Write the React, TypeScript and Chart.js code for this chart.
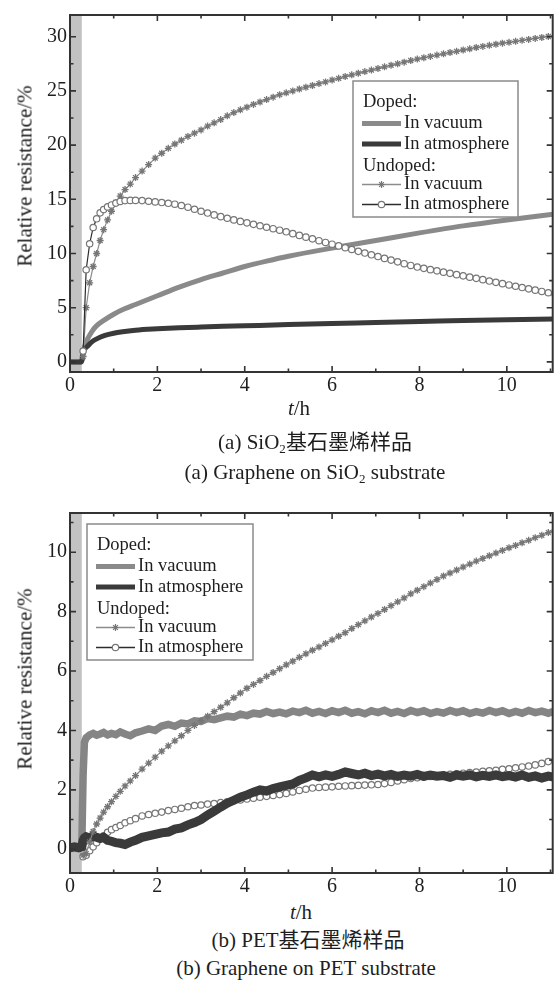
import React, { useEffect, useRef } from "react";
import { Chart, registerables } from "chart.js";

Chart.register(...registerables);

// ---------------- shared axis data ----------------
const X_MAX = 11.05;
const X_TICKS = [0, 2, 4, 6, 8, 10];
const X_MINOR = [1, 3, 5, 7, 9, 11];
const BAND = [0, 0.27];

// sampling times (h) of the marker series
const T_MARK = [
  0.3, 0.37, 0.45, 0.53, 0.61, 0.69, 0.77, 0.86, 0.95, 1.05, 1.15, 1.26, 1.38, 1.5,
  1.65, 1.8, 1.95, 2.1, 2.25, 2.4, 2.55, 2.7, 2.85, 3.0,
  3.15, 3.3, 3.45, 3.6, 3.75, 3.9, 4.05, 4.2, 4.35, 4.5,
  4.65, 4.8, 4.95, 5.1, 5.25, 5.4, 5.55, 5.7, 5.85, 6.0,
  6.15, 6.3, 6.45, 6.6, 6.75, 6.9, 7.05, 7.2, 7.35, 7.5,
  7.65, 7.8, 7.95, 8.1, 8.25, 8.4, 8.55, 8.7, 8.85, 9.0,
  9.15, 9.3, 9.45, 9.6, 9.75, 9.9, 10.05, 10.2, 10.35, 10.5,
  10.65, 10.8, 10.95, 11.1,
];

// ---------------- panel (a): SiO2 ----------------
const Y_MIN_A = -0.93;
const Y_MAX_A = 32;
const Y_TICKS_A = [0, 5, 10, 15, 20, 25, 30];
const Y_MINOR_A = [2.5, 7.5, 12.5, 17.5, 22.5, 27.5];

const T_DOPED_A = [0, 0.25, 0.28, 0.3, 0.35, 0.4, 0.5, 0.6, 0.8, 1.0, 1.25, 1.5, 2.0, 2.5, 3.0, 3.5, 4.0, 4.5, 5.0, 6.0, 7.0, 8.0, 9.0, 10.0, 11.1];
const DOPED_VAC_A = [0, 0, 0.2, 0.9, 1.6, 2.1, 2.8, 3.3, 3.9, 4.4, 4.9, 5.3, 6.1, 6.9, 7.6, 8.2, 8.8, 9.3, 9.75, 10.5, 11.2, 11.9, 12.55, 13.1, 13.65];
const DOPED_ATM_A = [0, 0, 0.3, 0.9, 1.25, 1.45, 1.85, 2.1, 2.45, 2.65, 2.8, 2.92, 3.05, 3.15, 3.22, 3.28, 3.33, 3.39, 3.45, 3.55, 3.63, 3.72, 3.82, 3.9, 3.97];

const UNDOPED_VAC_A = [
  0.5, 5.0, 7.3, 8.8, 10.0, 11.2, 12.2, 13.1, 13.9, 14.7, 15.3, 15.9, 16.4, 17.0,
  17.6, 18.2, 18.8, 19.25, 19.7, 20.1, 20.45, 20.8, 21.1, 21.4,
  21.75, 22.05, 22.35, 22.7, 23.0, 23.25, 23.5, 23.75, 23.98, 24.2,
  24.42, 24.65, 24.82, 25.0, 25.17, 25.34, 25.5, 25.67, 25.83, 26.0,
  26.16, 26.33, 26.48, 26.63, 26.78, 26.92, 27.07, 27.22, 27.36, 27.5,
  27.65, 27.8, 27.93, 28.06, 28.18, 28.3, 28.42, 28.54, 28.65, 28.77,
  28.88, 29.0, 29.1, 29.2, 29.3, 29.4, 29.48, 29.57, 29.66, 29.75,
  29.84, 29.93, 30.02, 30.1,
];
const UNDOPED_ATM_A = [
  1.0, 8.5, 10.9, 12.4, 13.2, 13.75, 14.05, 14.3, 14.48, 14.65, 14.8, 14.88, 14.9, 14.9,
  14.88, 14.82, 14.76, 14.7, 14.63, 14.55, 14.43, 14.27, 14.08, 13.9,
  13.73, 13.56, 13.4, 13.25, 13.1, 12.96, 12.83, 12.69, 12.56, 12.42,
  12.29, 12.15, 12.0, 11.83, 11.67, 11.51, 11.35, 11.18, 11.02, 10.86,
  10.7, 10.53, 10.37, 10.2, 10.04, 9.88, 9.72, 9.55, 9.39, 9.23,
  9.06, 8.9, 8.75, 8.63, 8.51, 8.4, 8.28, 8.17, 8.05, 7.94,
  7.82, 7.71, 7.59, 7.46, 7.34, 7.22, 7.1, 6.98, 6.86, 6.74,
  6.62, 6.5, 6.38, 6.27,
];

// ---------------- panel (b): PET ----------------
const Y_MIN_B = -0.8;
const Y_MAX_B = 11.32;
const Y_TICKS_B = [0, 2, 4, 6, 8, 10];
const Y_MINOR_B = [1, 3, 5, 7, 9, 11];

const T_DOPED_B = [0, 0.1, 0.2, 0.27, 0.3, 0.33, ...T_MARK.slice(1)];
const DOPED_VAC_B = [
  0.05, 0.05, 0.05, 0.1, 2.5, 3.6,
  3.75, 3.85, 3.9, 3.84, 3.88, 3.93, 3.85, 3.9, 3.86, 3.95, 3.88, 3.82, 3.92,
  3.98, 4.05, 4.0, 4.15, 4.2, 4.14, 4.25, 4.22, 4.32, 4.3,
  4.4, 4.36, 4.42, 4.48, 4.45, 4.55, 4.5, 4.58, 4.55, 4.64,
  4.57, 4.62, 4.56, 4.65, 4.6, 4.68, 4.58, 4.64, 4.57, 4.66,
  4.6, 4.68, 4.58, 4.63, 4.56, 4.66, 4.6, 4.68, 4.58, 4.64,
  4.57, 4.67, 4.6, 4.66, 4.57, 4.63, 4.58, 4.67, 4.6, 4.66,
  4.57, 4.63, 4.58, 4.67, 4.6, 4.66, 4.57, 4.64, 4.58, 4.67,
  4.6, 4.65, 4.58, 4.66,
];
const DOPED_ATM_B = [
  0.05, 0.08, 0.05, 0.08, 0.3, 0.38,
  0.42, 0.38, 0.45, 0.4, 0.36, 0.4, 0.3, 0.27, 0.22, 0.2, 0.16, 0.24, 0.3,
  0.4, 0.45, 0.5, 0.55, 0.58, 0.68, 0.72, 0.82, 0.9, 1.0,
  1.15, 1.28, 1.42, 1.55, 1.65, 1.75, 1.83, 1.92, 2.0, 1.96,
  2.04, 2.1, 2.15, 2.2, 2.32, 2.4, 2.5, 2.44, 2.5, 2.45,
  2.52, 2.6, 2.55, 2.5, 2.56, 2.48, 2.53, 2.47, 2.52, 2.45,
  2.5, 2.46, 2.52, 2.45, 2.5, 2.46, 2.48, 2.42, 2.5, 2.46,
  2.5, 2.44, 2.49, 2.45, 2.5, 2.44, 2.48, 2.43, 2.5, 2.42,
  2.47, 2.4, 2.46, 2.42,
];
const UNDOPED_VAC_B = [
  -0.2, -0.15, 0.25, 0.6, 0.85, 1.05, 1.25, 1.43, 1.6, 1.78, 1.95, 2.13, 2.3, 2.48,
  2.7, 2.9, 3.1, 3.3, 3.48, 3.65, 3.82, 4.0, 4.17, 4.33,
  4.48, 4.63, 4.78, 4.93, 5.1, 5.26, 5.42, 5.55, 5.68, 5.82,
  5.95, 6.08, 6.21, 6.33, 6.46, 6.58, 6.7, 6.81, 6.93, 7.05,
  7.17, 7.29, 7.43, 7.56, 7.69, 7.82, 7.94, 8.07, 8.2, 8.33,
  8.46, 8.6, 8.72, 8.84, 8.96, 9.08, 9.2, 9.3, 9.4, 9.5,
  9.6, 9.7, 9.79, 9.88, 9.97, 10.06, 10.15, 10.23, 10.32, 10.4,
  10.49, 10.57, 10.66, 10.74,
];
const UNDOPED_ATM_B = [
  -0.25, -0.2, -0.05, 0.08, 0.22, 0.35, 0.45, 0.57, 0.66, 0.73, 0.8, 0.89, 0.96, 1.03,
  1.12, 1.17, 1.21, 1.25, 1.3, 1.34, 1.38, 1.43, 1.47, 1.49,
  1.52, 1.54, 1.57, 1.6, 1.63, 1.66, 1.69, 1.72, 1.75, 1.78,
  1.81, 1.84, 1.88, 1.93, 1.98, 2.02, 2.06, 2.08, 2.09, 2.1,
  2.12, 2.13, 2.14, 2.15, 2.16, 2.17, 2.18, 2.21, 2.25, 2.3,
  2.34, 2.38, 2.41, 2.43, 2.45, 2.47, 2.5, 2.52, 2.54, 2.56,
  2.58, 2.6, 2.62, 2.64, 2.66, 2.69, 2.71, 2.74, 2.77, 2.8,
  2.84, 2.89, 2.95, 3.0,
];

// ---------------- text ----------------
const Y_TITLE = "Relative resistance/%";
const LEGEND_ROWS = [
  { text: "Doped:", kind: "header" },
  { text: "In vacuum", kind: "dopedVac" },
  { text: "In atmosphere", kind: "dopedAtm" },
  { text: "Undoped:", kind: "header" },
  { text: "In vacuum", kind: "star" },
  { text: "In atmosphere", kind: "circle" },
];

// ---------------- styles ----------------
const SERIF = '"Liberation Serif", "Times New Roman", serif';
const CAPTION_FONT = '"Liberation Serif", "Times New Roman", "Noto Sans CJK SC", serif';
const INK = "#1e1e1e";
const AXIS = "#333333";
const BAND_COLOR = "#c2c2c2";
const C_DOPED_VAC = "#8a8a8a";
const C_DOPED_ATM = "#3a3a3a";
const C_MARK_EDGE = "#767676";
const C_UNDOPED_VAC_LINE = "#8c8c8c";
const C_UNDOPED_ATM_LINE = "#2c2c2c";

function series(xs: number[], ys: number[]) {
  const out: { x: number; y: number }[] = [];
  const n = Math.min(xs.length, ys.length);
  for (let i = 0; i < n; i++) out.push({ x: xs[i], y: ys[i] });
  return out;
}

function drawStar(ctx: CanvasRenderingContext2D, cx: number, cy: number, r: number) {
  ctx.beginPath();
  ctx.moveTo(cx - r, cy); ctx.lineTo(cx + r, cy);
  ctx.moveTo(cx, cy - r); ctx.lineTo(cx, cy + r);
  const d = r * 0.707;
  ctx.moveTo(cx - d, cy - d); ctx.lineTo(cx + d, cy + d);
  ctx.moveTo(cx - d, cy + d); ctx.lineTo(cx + d, cy - d);
  ctx.stroke();
}

type Panel = {
  yMin: number; yMax: number; yTicks: number[]; yMinor: number[];
  xAxisH: number; legend: { dx: number; dy: number; w: number; h: number };
  datasets: any[];
};

function decor(p: Panel) {
  return {
    id: "decor",
    beforeDatasetsDraw(chart: any) {
      const { ctx, chartArea: a, scales } = chart;
      const x0 = scales.x.getPixelForValue(BAND[0]);
      const x1 = scales.x.getPixelForValue(BAND[1]);
      ctx.save();
      ctx.fillStyle = BAND_COLOR;
      ctx.fillRect(x0, a.top, x1 - x0, a.bottom - a.top);
      ctx.restore();
    },
    afterDatasetsDraw(chart: any) {
      const { ctx, chartArea: a, scales } = chart;
      const xs = scales.x, ys = scales.y;
      ctx.save();
      // frame
      ctx.strokeStyle = AXIS;
      ctx.lineWidth = 2;
      ctx.strokeRect(a.left, a.top, a.right - a.left, a.bottom - a.top);
      // inward ticks on all four sides
      ctx.lineWidth = 1.6;
      ctx.beginPath();
      const xt = (v: number, len: number) => {
        const px = xs.getPixelForValue(v);
        if (px <= a.left + 1 || px >= a.right - 1) return;
        ctx.moveTo(px, a.bottom); ctx.lineTo(px, a.bottom - len);
        ctx.moveTo(px, a.top); ctx.lineTo(px, a.top + len);
      };
      const yt = (v: number, len: number) => {
        const py = ys.getPixelForValue(v);
        if (py <= a.top + 1 || py >= a.bottom - 1) return;
        ctx.moveTo(a.left, py); ctx.lineTo(a.left + len, py);
        ctx.moveTo(a.right, py); ctx.lineTo(a.right - len, py);
      };
      X_TICKS.forEach((v) => xt(v, 6));
      X_MINOR.forEach((v) => xt(v, 3.5));
      p.yTicks.forEach((v) => yt(v, 6));
      p.yMinor.forEach((v) => yt(v, 3.5));
      ctx.stroke();

      // legend
      const L = p.legend;
      const bx = a.left + L.dx, by = a.top + L.dy;
      ctx.fillStyle = "#ffffff";
      ctx.fillRect(bx, by, L.w, L.h);
      ctx.strokeStyle = "#8a8a8a";
      ctx.lineWidth = 1.5;
      ctx.strokeRect(bx, by, L.w, L.h);
      const rowY = [21.5, 42.5, 63, 85, 103.5, 123.5];
      ctx.font = `18.5px ${SERIF}`;
      ctx.textBaseline = "middle";
      ctx.textAlign = "left";
      LEGEND_ROWS.forEach((r, i) => {
        const y = by + rowY[i];
        const s0 = bx + 9, s1 = bx + 48;
        if (r.kind === "header") {
          ctx.fillStyle = INK;
          ctx.fillText(r.text, bx + 10, y);
          return;
        }
        if (r.kind === "dopedVac" || r.kind === "dopedAtm") {
          ctx.strokeStyle = r.kind === "dopedVac" ? C_DOPED_VAC : C_DOPED_ATM;
          ctx.lineWidth = 5;
          ctx.beginPath(); ctx.moveTo(s0, y); ctx.lineTo(s1, y); ctx.stroke();
        } else {
          ctx.strokeStyle = r.kind === "star" ? C_UNDOPED_VAC_LINE : C_UNDOPED_ATM_LINE;
          ctx.lineWidth = 1.3;
          ctx.beginPath(); ctx.moveTo(s0, y); ctx.lineTo(s1, y); ctx.stroke();
          const cx = (s0 + s1) / 2;
          ctx.strokeStyle = C_MARK_EDGE;
          ctx.lineWidth = 1.2;
          if (r.kind === "star") {
            drawStar(ctx, cx, y, 3.4);
          } else {
            ctx.fillStyle = "#ffffff";
            ctx.beginPath(); ctx.arc(cx, y, 3.2, 0, Math.PI * 2); ctx.fill(); ctx.stroke();
          }
        }
        ctx.fillStyle = INK;
        ctx.fillText(r.text, bx + 51, y);
      });
      ctx.restore();
    },
  };
}

function makeConfig(p: Panel): any {
  const tickFont = { family: SERIF, size: 20 };
  return {
    type: "line",
    data: { datasets: p.datasets },
    options: {
      responsive: false,
      animation: false,
      devicePixelRatio: 1,
      layout: { padding: { top: 10, right: 2, left: 0, bottom: 0 } },
      plugins: { legend: { display: false }, tooltip: { enabled: false } },
      elements: { line: { fill: false } },
      scales: {
        x: {
          type: "linear",
          min: 0,
          max: X_MAX,
          afterBuildTicks: (s: any) => { s.ticks = X_TICKS.map((v) => ({ value: v })); },
          afterFit: (s: any) => { s.height = p.xAxisH; },
          grid: { display: false, drawTicks: false },
          border: { display: false },
          ticks: { font: tickFont, color: INK, padding: 2, maxRotation: 0, autoSkip: false },
        },
        y: {
          type: "linear",
          min: p.yMin,
          max: p.yMax,
          afterBuildTicks: (s: any) => { s.ticks = p.yTicks.map((v) => ({ value: v })); },
          afterFit: (s: any) => { s.width = 70; },
          grid: { display: false, drawTicks: false },
          border: { display: false },
          ticks: { font: tickFont, color: INK, padding: 3, autoSkip: false },
        },
      },
    },
    plugins: [decor(p)],
  };
}

const markerVac = {
  borderColor: C_UNDOPED_VAC_LINE,
  borderWidth: 1.2,
  pointStyle: "star",
  pointRadius: 3.5,
  pointBorderColor: C_MARK_EDGE,
  pointBackgroundColor: "#ffffff",
  pointBorderWidth: 1.3,
  clip: 0,
};
const markerAtm = {
  borderColor: C_UNDOPED_ATM_LINE,
  borderWidth: 1.2,
  pointStyle: "circle",
  pointRadius: 3.2,
  pointBorderColor: C_MARK_EDGE,
  pointBackgroundColor: "#ffffff",
  pointBorderWidth: 1.2,
  clip: 0,
};

const PANEL_A: Panel = {
  yMin: Y_MIN_A, yMax: Y_MAX_A, yTicks: Y_TICKS_A, yMinor: Y_MINOR_A,
  xAxisH: 28,
  legend: { dx: 283, dy: 66, w: 165, h: 136 },
  datasets: [
    { label: "Doped, in vacuum", data: series(T_DOPED_A, DOPED_VAC_A), borderColor: C_DOPED_VAC, borderWidth: 5, pointRadius: 0, cubicInterpolationMode: "monotone", order: 3, clip: 0 },
    { label: "Doped, in atmosphere", data: series(T_DOPED_A, DOPED_ATM_A), borderColor: C_DOPED_ATM, borderWidth: 5, pointRadius: 0, cubicInterpolationMode: "monotone", order: 2, clip: 0 },
    { label: "Undoped, in vacuum", data: series(T_MARK, UNDOPED_VAC_A), ...markerVac, order: 1 },
    { label: "Undoped, in atmosphere", data: series(T_MARK, UNDOPED_ATM_A), ...markerAtm, order: 0 },
  ],
};

const PANEL_B: Panel = {
  yMin: Y_MIN_B, yMax: Y_MAX_B, yTicks: Y_TICKS_B, yMinor: Y_MINOR_B,
  xAxisH: 25,
  legend: { dx: 17, dy: 11, w: 166, h: 136 },
  datasets: [
    { label: "Doped, in vacuum", data: series(T_DOPED_B, DOPED_VAC_B), borderColor: "#858585", borderWidth: 7.5, pointRadius: 0, order: 2, clip: 0 },
    { label: "Doped, in atmosphere", data: series(T_DOPED_B, DOPED_ATM_B), borderColor: C_DOPED_ATM, borderWidth: 9, pointRadius: 0, order: 1, clip: 0 },
    { label: "Undoped, in vacuum", data: series(T_MARK, UNDOPED_VAC_B), ...markerVac, order: 0 },
    { label: "Undoped, in atmosphere", data: series(T_MARK, UNDOPED_ATM_B), ...markerAtm, order: 3 },
  ],
};

function Label(props: { cx: number; cy: number; size: number; rotate?: boolean; children: any }) {
  const { cx, cy, size, rotate, children } = props;
  return (
    <div
      style={{
        position: "absolute",
        left: cx,
        top: cy,
        transform: `translate(-50%, -50%)${rotate ? " rotate(-90deg)" : ""}`,
        whiteSpace: "nowrap",
        fontSize: size,
        lineHeight: 1,
        fontFamily: CAPTION_FONT,
        color: INK,
      }}
    >
      {children}
    </div>
  );
}

const Sub = (props: { children: any }) => (
  <span style={{ fontSize: "0.62em", position: "relative", top: "0.3em" }}>{props.children}</span>
);

export default function App() {
  const refA = useRef<HTMLCanvasElement | null>(null);
  const refB = useRef<HTMLCanvasElement | null>(null);

  useEffect(() => {
    const a = new Chart(refA.current as HTMLCanvasElement, makeConfig(PANEL_A));
    const b = new Chart(refB.current as HTMLCanvasElement, makeConfig(PANEL_B));
    return () => { a.destroy(); b.destroy(); };
  }, []);

  return (
    <div style={{ position: "absolute", left: 0, top: 0, width: 558, height: 983, background: "#fff", overflow: "hidden" }}>
      <canvas ref={refA} width={558} height={400} style={{ position: "absolute", left: 0, top: 0, width: 558, height: 400 }} />
      <Label cx={25} cy={176} size={21} rotate>{Y_TITLE}</Label>
      <Label cx={299} cy={408} size={21}><i>t</i>/h</Label>
      <Label cx={315} cy={442} size={21}>(a) SiO<Sub>2</Sub>基石墨烯样品</Label>
      <Label cx={315} cy={472} size={21}>(a) Graphene on SiO<Sub>2</Sub> substrate</Label>

      <canvas ref={refB} width={558} height={400} style={{ position: "absolute", left: 0, top: 498, width: 558, height: 400 }} />
      <Label cx={25} cy={679} size={21} rotate>{Y_TITLE}</Label>
      <Label cx={301} cy={912} size={21}><i>t</i>/h</Label>
      <Label cx={308} cy={940} size={21}>(b) PET基石墨烯样品</Label>
      <Label cx={306} cy={968} size={21}>(b) Graphene on PET substrate</Label>
    </div>
  );
}
